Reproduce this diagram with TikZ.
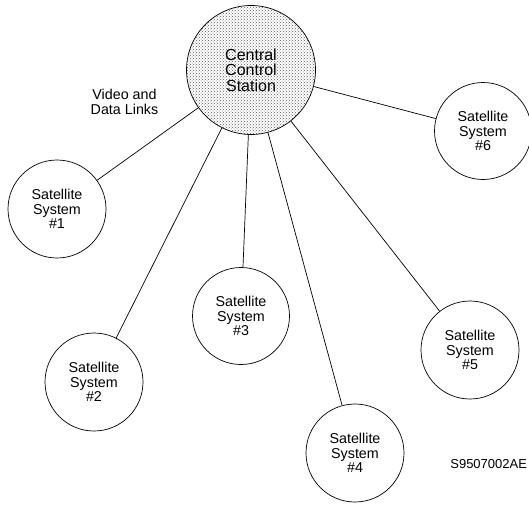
\documentclass[tikz,border=0pt]{standalone}
\usepackage{fontspec}
\setmainfont{Liberation Sans}
\usetikzlibrary{patterns}
\begin{document}
\begin{tikzpicture}[x=1pt, y=-1pt, line width=0.7pt]
\useasboundingbox (0,0) rectangle (529,504);
\node[circle, draw, minimum size=129pt, inner sep=0pt, pattern=crosshatch dots, pattern color=black!65, align=center, font=\fontsize{16}{15.5}\selectfont] (ccs) at (251,70){Central\\Control\\Station};
\node[circle, draw, fill=white, minimum size=98pt, inner sep=0pt, align=center, font=\fontsize{14.3}{14.7}\selectfont] (sat1) at (57,209){Satellite\\System\\\#1};
\node[circle, draw, fill=white, minimum size=98pt, inner sep=0pt, align=center, font=\fontsize{14.3}{14.7}\selectfont] (sat2) at (94,382){Satellite\\System\\\#2};
\node[circle, draw, fill=white, minimum size=97pt, inner sep=0pt, align=center, font=\fontsize{14.3}{14.7}\selectfont] (sat3) at (241,316){Satellite\\System\\\#3};
\node[circle, draw, fill=white, minimum size=98pt, inner sep=0pt, align=center, font=\fontsize{14.3}{14.7}\selectfont] (sat4) at (355,453){Satellite\\System\\\#4};
\node[circle, draw, fill=white, minimum size=98pt, inner sep=0pt, align=center, font=\fontsize{14.3}{14.7}\selectfont] (sat5) at (470,350){Satellite\\System\\\#5};
\node[circle, draw, fill=white, minimum size=97pt, inner sep=0pt, align=center, font=\fontsize{14.3}{14.7}\selectfont] (sat6) at (483,131){Satellite\\System\\\#6};
\draw[](ccs) -- (sat1);
\draw[](ccs) -- (sat2);
\draw[](ccs) -- (sat3);
\draw[](ccs) -- (sat4);
\draw[](ccs) -- (sat5);
\draw[](ccs) -- (sat6);
\node[align=center, inner sep=0pt, font=\fontsize{14.3}{14.7}\selectfont] (links) at (124.5,102){Video and\\Data Links};
\node[anchor=west, inner sep=0pt, font=\fontsize{13}{13}\selectfont] (code) at (450,464){S9507002AE};
\end{tikzpicture}
\end{document}
